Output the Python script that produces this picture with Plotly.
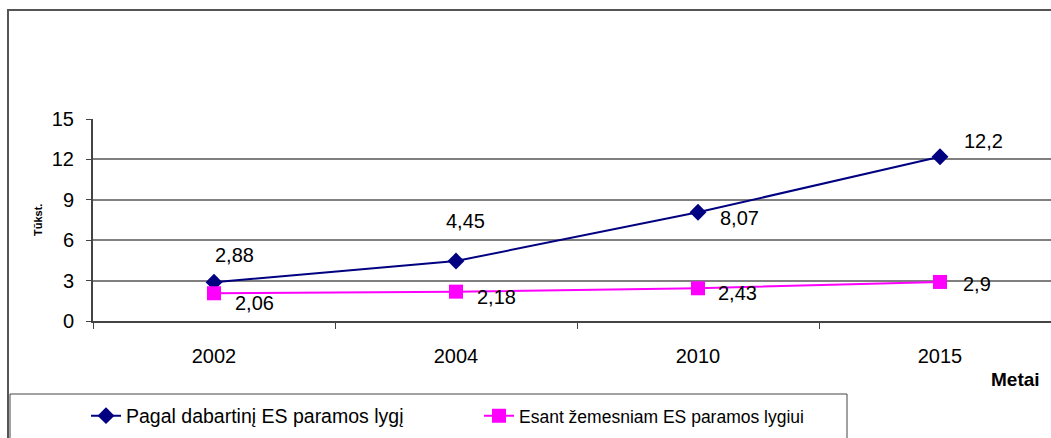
import plotly.graph_objects as go

years = ["2002", "2004", "2010", "2015"]
current_level = [2.88, 4.45, 8.07, 12.2]
lower_level = [2.06, 2.18, 2.43, 2.9]
y_ticks = [0, 3, 6, 9, 12, 15]

# label offsets in px (dx, dy) from each point
current_offsets = [(20, -27), (9, -40), (41, 6), (43, -16)]
lower_offsets = [(40, 10), (40, 5), (39, 5), (37, 2)]

W, H = 1051, 438
L, R, T, B = 93, 1051, 119, 321


def px_x(p):
    return (p - L) / (R - L)


def px_y(p):
    return (B - p) / (B - T)


def fmt(v):
    return f"{v:g}".replace(".", ",")


FONT = "Liberation Sans, Arial, sans-serif"

fig = go.Figure()
fig.add_trace(go.Scatter(
    x=years, y=current_level, mode="lines+markers",
    name="Pagal dabartinį ES paramos lygį",
    line=dict(color="#000080", width=2),
    marker=dict(symbol="diamond", size=13, color="#000080"),
))
fig.add_trace(go.Scatter(
    x=years, y=lower_level, mode="lines+markers",
    name='<span style="font-size:17.5px">Esant žemesniam ES paramos lygiui</span>',
    line=dict(color="#FF00FF", width=2),
    marker=dict(symbol="square", size=14, color="#FF00FF"),
))

# data labels (category index as x so numeric-looking names are not misread)
for vals, offs in ((current_level, current_offsets), (lower_level, lower_offsets)):
    for i, (v, (dx, dy)) in enumerate(zip(vals, offs)):
        fig.add_annotation(x=i, y=v, text=fmt(v), showarrow=False,
                           xshift=dx, yshift=-dy,
                           font=dict(family=FONT, size=20, color="black"))

# axis titles
fig.add_annotation(x=px_x(38), y=px_y(220), xref="paper", yref="paper",
                   xanchor="center", yanchor="middle",
                   text="<b>Tūkst.</b>", textangle=-90, showarrow=False,
                   font=dict(family=FONT, size=11, color="black"))
fig.add_annotation(x=px_x(1015), y=px_y(379), xref="paper", yref="paper",
                   xanchor="center", yanchor="middle",
                   text="<b>Metai</b>", showarrow=False,
                   font=dict(family=FONT, size=19, color="black"))

# outer frame and legend box
fig.add_shape(type="rect", xref="paper", yref="paper",
              x0=px_x(8), x1=px_x(1100), y0=px_y(500), y1=px_y(10),
              line=dict(color="#555555", width=2))
fig.add_shape(type="rect", xref="paper", yref="paper",
              x0=px_x(10), x1=px_x(847), y0=px_y(500), y1=px_y(394),
              line=dict(color="#444444", width=1))

fig.update_layout(
    width=W, height=H,
    margin=dict(l=L, r=W - R, t=T, b=H - B),
    plot_bgcolor="white", paper_bgcolor="white",
    font=dict(family=FONT, size=20, color="black"),
    showlegend=True,
    legend=dict(orientation="h", x=px_x(86), y=px_y(416),
                xanchor="left", yanchor="middle",
                entrywidth=348, entrywidthmode="pixels",
                font=dict(family=FONT, size=19.5, color="black"),
                bgcolor="rgba(0,0,0,0)"),
    xaxis=dict(type="category", range=[-0.5, -0.5 + (R - L) / 242],
               tickson="boundaries", ticks="outside", ticklen=6,
               tickcolor="#444444", showline=True, linecolor="#444444",
               linewidth=2, showgrid=False, zeroline=False,
               tickfont=dict(size=20), ticklabelstandoff=16),
    yaxis=dict(range=[0, 15], tickvals=y_ticks, ticks="outside", ticklen=5,
               tickcolor="#444444", showline=True, linecolor="#444444",
               linewidth=2, showgrid=True, gridcolor="#808080", gridwidth=1.5,
               zeroline=False, tickfont=dict(size=20), ticklabelstandoff=8),
)

fig.write_html("out.html", config={"displayModeBar": False},
               post_script="document.body.style.margin='0';"
                           "document.body.style.overflow='hidden';")
